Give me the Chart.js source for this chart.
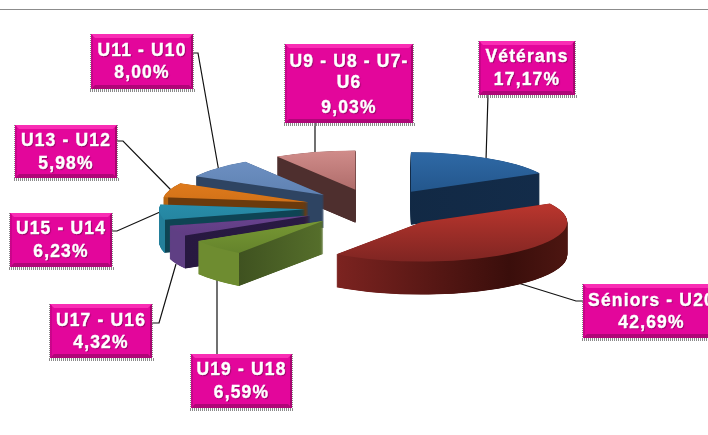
<!DOCTYPE html>
<html>
<head>
<meta charset="utf-8">
<script src="https://cdn.jsdelivr.net/npm/chart.js@4"></script>
<style>
html, body { margin: 0; padding: 0; background: #fff; overflow: hidden; }
#wrap { position: relative; width: 708px; height: 435px; }
</style>
</head>
<body>
<div id="wrap"><canvas id="pie"></canvas></div>
<script>
// slices run clockwise from 12 o'clock
const categories = ['Vétérans', 'Séniors - U20', 'U19 - U18', 'U17 - U16', 'U15 - U14', 'U13 - U12', 'U11 - U10', ['U9 - U8 - U7-', 'U6']];
const shares = [17.17, 42.69, 6.59, 4.32, 6.23, 5.98, 8.00, 9.03];

// back to front, so nearer slices cover the ones behind
const drawOrder = [0, 7, 6, 5, 4, 3, 2, 1];

// fake 3d settings
const RADIUS = 146;
const EXPLODE = 70;
const SQUASH = 0.27;
const DEPTH = 33;

// top face colours (far edge, near edge) and side colours [stop, colour]
const topColors = [
    ['#2f69a6', '#174472'],
    ['#d03c32', '#7f2522'],
    ['#8fb03e', '#607f2a'],
    ['#7a52a4', '#573578'],
    ['#2f9ab8', '#1f7a94'],
    ['#ec8420', '#b85f10'],
    ['#6f92c4', '#4f71a0'],
    ['#d08c8a', '#8f4e4c']
];
const sideColors = [
    [[0, '#10263f'], [1, '#132c4a']],
    [[0, '#7c2320'], [0.21, '#7c2320'], [0.8, '#3a0e0b'], [1, '#4d1611']],
    [[0, '#6e8c30'], [0.21, '#6e8c30'], [0.211, '#3f5220'], [0.5, '#566f2b'], [1, '#566f2b']],
    [[0, '#5f3f84'], [0.07, '#5f3f84'], [0.071, '#271840'], [1, '#2c1c46']],
    [[0, '#237f9b'], [0.02, '#237f9b'], [0.021, '#0e4454'], [1, '#0e4454']],
    [[0, '#b5640f'], [0.02, '#b5640f'], [0.021, '#6b3a0c'], [1, '#6b3a0c']],
    [[0, '#2e4462'], [1, '#2e4462']],
    [[0, '#4e2f2e'], [0.5, '#4e2f2e'], [1, '#5c3a38']]
];

// label boxes, same order as categories
const labelBoxes = [
    { x: 479, y: 41, w: 96, h: 54, lines: [57, 80], leader: [[488, 95], [486, 160]] },
    { x: 583, y: 284, w: 137, h: 54, lines: [301, 323], leader: [[583, 301], [576, 301], [518, 283]] },
    { x: 191, y: 354, w: 101, h: 54, lines: [370, 393], leader: [[217, 354], [217, 280]] },
    { x: 50, y: 304, w: 102, h: 54, lines: [321, 343], leader: [[152, 323], [159, 323], [176, 264]] },
    { x: 10, y: 213, w: 102, h: 54, lines: [229, 252], leader: [[112, 231], [117, 231], [160, 212]] },
    { x: 15, y: 125, w: 102, h: 53, lines: [141, 164], leader: [[117, 141], [123, 141], [171, 190]] },
    { x: 91, y: 34, w: 102, h: 55, lines: [51, 73], leader: [[193, 53], [198, 53], [219, 172]] },
    { x: 285, y: 44, w: 128, h: 79, lines: [62, 83, 108], leader: [[315, 122], [315, 155]] }
];

function fillWith(arc, ctx, color) {
    // same element, other fill
    const copy = Object.create(arc);
    copy.options = Object.assign({}, arc.options, { backgroundColor: color });
    copy.draw(ctx);
}

function drawSlice(ctx, arc, index) {
    const mid = (arc.startAngle + arc.endAngle) / 2;

    const side = ctx.createLinearGradient(arc.x - RADIUS, 0, arc.x + RADIUS, 0);
    sideColors[index].forEach(s => side.addColorStop(s[0], s[1]));

    const top = ctx.createLinearGradient(0, arc.y - RADIUS, 0, arc.y + RADIUS);
    top.addColorStop(0, topColors[index][0]);
    top.addColorStop(1, topColors[index][1]);

    // quarter pixel steps, whole pixels leave a pale fringe at the sharp tips
    for (let d = DEPTH; d >= 0; d -= 0.25) {
        ctx.save();
        ctx.translate(arc.x, arc.y + d);
        ctx.scale(1, SQUASH);
        ctx.translate(-arc.x, -arc.y);
        ctx.translate(Math.cos(mid) * EXPLODE, Math.sin(mid) * EXPLODE);
        fillWith(arc, ctx, d === 0 ? top : side);
        ctx.restore();
    }
}

const pie3d = {
    id: 'pie3d',
    beforeDatasetDraw(chart, args) {
        const ctx = chart.ctx;
        const arcs = chart.getDatasetMeta(args.index).data;
        drawOrder.forEach(i => drawSlice(ctx, arcs[i], i));
        return false;
    }
};

function drawBox(ctx, b) {
    // dotted shadow under the box
    ctx.save();
    ctx.setLineDash([1, 1]);
    ctx.strokeStyle = '#8a8a8a';
    ctx.lineWidth = 1;
    for (let i = 1; i <= 3; i++) {
        ctx.beginPath();
        ctx.moveTo(b.x - 1, b.y + b.h + i - 0.5);
        ctx.lineTo(b.x + b.w + 2, b.y + b.h + i - 0.5);
        ctx.stroke();
    }
    ctx.beginPath();
    ctx.moveTo(b.x - 0.5, b.y);
    ctx.lineTo(b.x - 0.5, b.y + b.h);
    ctx.moveTo(b.x + b.w + 0.5, b.y);
    ctx.lineTo(b.x + b.w + 0.5, b.y + b.h);
    ctx.stroke();
    ctx.restore();

    const bevel = 4;
    ctx.fillStyle = '#e3069b';
    ctx.fillRect(b.x, b.y, b.w, b.h);
    // bevel edges
    ctx.fillStyle = '#f92db4';
    ctx.beginPath();
    ctx.moveTo(b.x, b.y);
    ctx.lineTo(b.x + b.w, b.y);
    ctx.lineTo(b.x + b.w - bevel, b.y + bevel);
    ctx.lineTo(b.x + bevel, b.y + bevel);
    ctx.fill();
    ctx.fillStyle = '#b00678';
    ctx.beginPath();
    ctx.moveTo(b.x, b.y + b.h);
    ctx.lineTo(b.x + b.w, b.y + b.h);
    ctx.lineTo(b.x + b.w - bevel, b.y + b.h - bevel);
    ctx.lineTo(b.x + bevel, b.y + b.h - bevel);
    ctx.fill();
    ctx.fillStyle = '#a8056f';
    ctx.beginPath();
    ctx.moveTo(b.x + b.w, b.y);
    ctx.lineTo(b.x + b.w, b.y + b.h);
    ctx.lineTo(b.x + b.w - 2, b.y + b.h - 2);
    ctx.lineTo(b.x + b.w - 2, b.y + 2);
    ctx.fill();
    ctx.fillStyle = '#c9058a';
    ctx.beginPath();
    ctx.moveTo(b.x, b.y);
    ctx.lineTo(b.x, b.y + b.h);
    ctx.lineTo(b.x + 2, b.y + b.h - 2);
    ctx.lineTo(b.x + 2, b.y + 2);
    ctx.fill();
}

const calloutLabels = {
    id: 'calloutLabels',
    beforeDatasetsDraw(chart) {
        const ctx = chart.ctx;
        // rule across the top
        ctx.save();
        ctx.fillStyle = '#8c8c8c';
        ctx.fillRect(0, 9, 708, 1);
        // leader lines sit under the pie
        ctx.strokeStyle = '#111';
        ctx.lineWidth = 1.2;
        labelBoxes.forEach(b => {
            ctx.beginPath();
            b.leader.forEach((p, i) => i ? ctx.lineTo(p[0], p[1]) : ctx.moveTo(p[0], p[1]));
            ctx.stroke();
        });
        ctx.restore();
    },
    afterDatasetsDraw(chart) {
        const ctx = chart.ctx;
        ctx.save();
        labelBoxes.forEach((b, i) => {
            drawBox(ctx, b);
            const name = [].concat(categories[i]);
            const lines = name.concat(shares[i].toFixed(2).replace('.', ',') + '%');
            // Séniors box runs off the page, its text is centred on the full box
            const cx = b.x + b.w / 2;
            ctx.font = 'bold 17.5px "Liberation Sans", Arial, sans-serif';
            ctx.letterSpacing = '1.15px';
            ctx.textAlign = 'center';
            ctx.textBaseline = 'middle';
            ctx.fillStyle = '#fff';
            ctx.strokeStyle = '#fff';
            ctx.lineWidth = 0.4;
            lines.forEach((t, j) => {
                ctx.shadowColor = 'rgba(90,0,60,0.6)';
                ctx.shadowOffsetX = 1;
                ctx.shadowOffsetY = 1;
                ctx.shadowBlur = 1;
                ctx.fillText(t, cx, b.lines[j]);
                ctx.shadowColor = 'transparent';
                ctx.strokeText(t, cx, b.lines[j]);
            });
        });
        ctx.restore();
    }
};

new Chart(document.getElementById('pie').getContext('2d'), {
    type: 'pie',
    data: {
        labels: categories,
        datasets: [{
            data: shares,
            backgroundColor: topColors.map(c => c[0]),
            borderWidth: 0
        }]
    },
    options: {
        responsive: true,
        maintainAspectRatio: false,
        animation: false,
        radius: RADIUS,
        layout: { padding: { left: 42, bottom: 19 } },
        plugins: {
            legend: { display: false },
            tooltip: { enabled: false },
            title: { display: false }
        }
    },
    plugins: [calloutLabels, pie3d]
});
</script>
</body>
</html>
